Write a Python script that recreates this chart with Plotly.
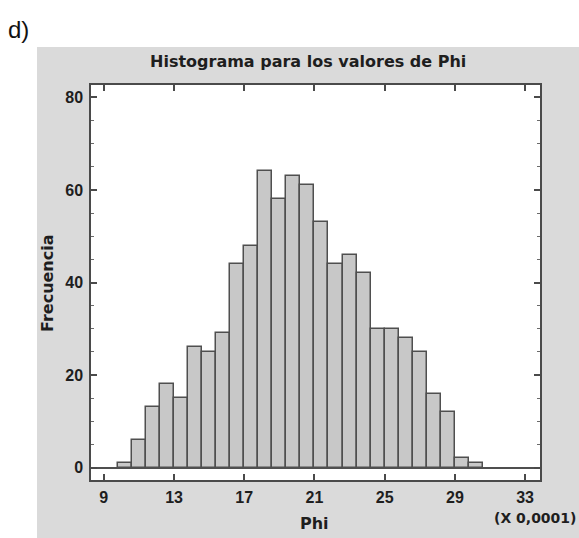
import plotly.graph_objects as go

# ---- data ----
bin_start = 9.8
bin_width = 0.8
counts = [1, 6, 13, 18, 15, 26, 25, 29, 44, 48, 64, 58, 63, 61, 53, 44, 46, 42,
          30, 30, 28, 25, 16, 12, 2, 1]
x_ticks = [9, 13, 17, 21, 25, 29, 33]
y_ticks = [0, 20, 40, 60, 80]
title_text = "Histograma para los valores de Phi"
x_title = "Phi"
y_title = "Frecuencia"
scale_text = "(X 0,0001)"
panel_label = "d)"

centers = [bin_start + bin_width * (i + 0.5) for i in range(len(counts))]

# ---- layout geometry ----
W, H = 579, 538
L, R, T, B = 91, 39, 85, 58
PW = W - L - R
PH = H - T - B


def px(xp):
    return (xp - L) / PW


def py(yp):
    return (H - B - yp) / PH


fig = go.Figure()
fig.add_trace(go.Bar(
    x=centers, y=counts, width=bin_width,
    marker=dict(color="#c8c8c8", line=dict(color="#4f4f4f", width=1.5)),
    hoverinfo="x+y",
))

tickfont = dict(family="Liberation Sans, Arial, sans-serif", size=16,
                color="#1e1e1e", weight="bold")
titlefont = dict(family="DejaVu Sans, sans-serif", size=16, color="#1e1e1e",
                 weight="bold")

fig.update_layout(
    width=W, height=H, autosize=False,
    margin=dict(l=L, r=R, t=T, b=B, pad=0),
    paper_bgcolor="white", plot_bgcolor="white",
    showlegend=False, bargap=0,
)
fig.update_xaxes(
    range=[8.27, 33.85], tickvals=x_ticks, ticktext=[str(v) for v in x_ticks],
    ticks="inside", ticklen=6, tickwidth=1.5, tickcolor="#4a4a4a",
    showline=True, linecolor="#4a4a4a", linewidth=1.5, mirror="ticks",
    showgrid=False, zeroline=False, tickfont=tickfont, ticklabelstandoff=2,
)
fig.update_yaxes(
    range=[-2.7, 82.7], tickvals=y_ticks, ticktext=[str(v) for v in y_ticks],
    ticks="inside", ticklen=6, tickwidth=1.5, tickcolor="#4a4a4a",
    minor=dict(dtick=5, tick0=0, ticks="inside", ticklen=3, tickwidth=1, tickcolor="#6a6a6a"),
    showline=True, linecolor="#4a4a4a", linewidth=1.5, mirror="ticks",
    showgrid=False, zeroline=True, zerolinecolor="#4f4f4f", zerolinewidth=1.5,
    tickfont=tickfont, ticklabelstandoff=3,
)

# gray panel behind chart, then white plot area on top of it
fig.add_shape(type="rect", xref="paper", yref="paper",
              x0=px(37), x1=px(W + 2), y0=py(H + 2), y1=py(47),
              fillcolor="#dadada", line=dict(width=0), layer="below")
fig.add_shape(type="rect", xref="paper", yref="paper",
              x0=0, x1=1, y0=0, y1=1,
              fillcolor="white", line=dict(width=0), layer="below")

fig.add_annotation(text=panel_label, xref="paper", yref="paper",
                   x=px(6), y=py(30), xanchor="left", yanchor="middle",
                   showarrow=False,
                   font=dict(family="Liberation Sans, Arial, sans-serif", size=24, color="#111111"))
fig.add_annotation(text=title_text, xref="paper", yref="paper",
                   x=px(308), y=py(62), xanchor="center", yanchor="middle",
                   showarrow=False, font=titlefont)
fig.add_annotation(text=y_title, xref="paper", yref="paper",
                   x=px(47), y=py(283), xanchor="center", yanchor="middle",
                   textangle=-90, showarrow=False, font=titlefont)
fig.add_annotation(text=x_title, xref="paper", yref="paper",
                   x=px(314), y=py(523), xanchor="center", yanchor="middle",
                   showarrow=False, font=titlefont)
fig.add_annotation(text=scale_text, xref="paper", yref="paper",
                   x=px(535), y=py(518), xanchor="center", yanchor="middle",
                   showarrow=False,
                   font=dict(family="DejaVu Sans, sans-serif", size=14,
                             color="#1e1e1e", weight="bold"))

fig.write_html("out.html")
